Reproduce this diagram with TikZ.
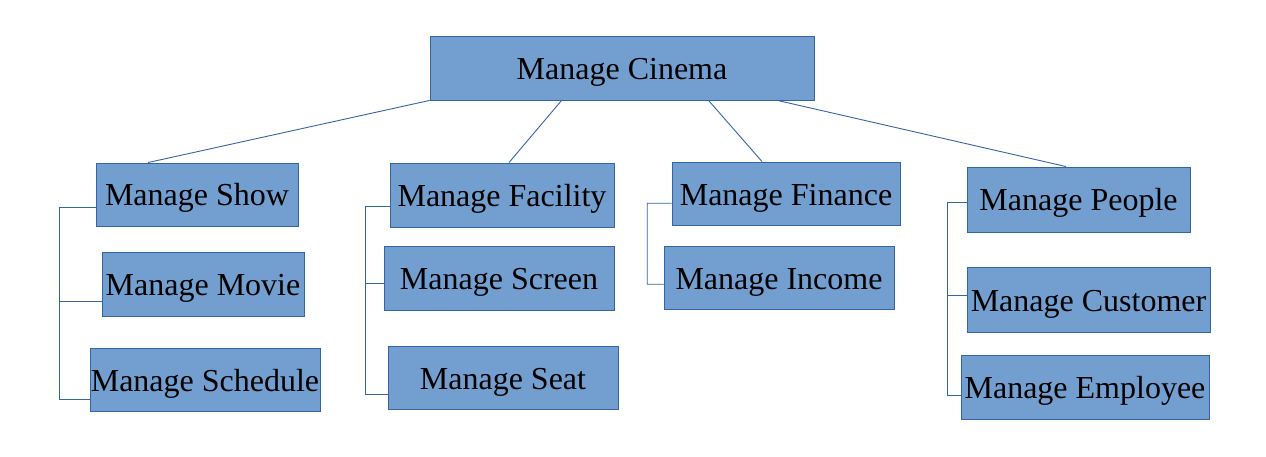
\documentclass[tikz,border=0pt]{standalone}
\usepackage{fontspec}
\setmainfont{Liberation Serif}
\definecolor{boxfill}{HTML}{729FCF}
\definecolor{boxline}{HTML}{3465A4}
\begin{document}
\begin{tikzpicture}[x=1pt,y=-1pt,
  box/.style={draw=boxline, fill=boxfill, line width=0.9pt, inner sep=0pt,
    font=\fontsize{32}{38}\selectfont, text height=28.8pt, text depth=5.8pt},
  link/.style={draw=boxline, line width=0.9pt}]
\useasboundingbox (0,0) rectangle (1266,457);
\node[box, minimum width=384pt, minimum height=64pt] (cin) at (622,68) {Manage Cinema};
\node[box, minimum width=202pt, minimum height=63pt] (show) at (197,194.5) {Manage Show};
\node[box, minimum width=202pt, minimum height=64pt] (movie) at (203,284) {Manage Movie};
\node[box, minimum width=230pt, minimum height=63pt] (sched) at (205,379.5) {Manage Schedule};
\node[box, minimum width=224pt, minimum height=64pt] (fac) at (502,195) {Manage Facility};
\node[box, minimum width=230pt, minimum height=64pt] (scr) at (499,278) {Manage Screen};
\node[box, minimum width=230pt, minimum height=63pt] (seat) at (503,377.5) {Manage Seat};
\node[box, minimum width=228pt, minimum height=63.5pt] (fin) at (786,193.75) {Manage Finance};
\node[box, minimum width=230pt, minimum height=63pt] (inc) at (779,277.5) {Manage Income};
\node[box, minimum width=223pt, minimum height=65pt] (ppl) at (1078.5,199.5) {Manage People};
\node[box, minimum width=243pt, minimum height=65pt] (cust) at (1088.5,299.5) {Manage Customer};
\node[box, minimum width=248pt, minimum height=64pt] (emp) at (1085,387) {Manage Employee};
% top connectors
\draw[link] (cin.south west) -- ([xshift=-49pt]show.north);
\draw[link] ([xshift=132pt]cin.south west) -- ([xshift=7pt]fac.north);
\draw[link] ([xshift=279pt]cin.south west) -- ([xshift=-24pt]fin.north);
\draw[link] ([xshift=348pt]cin.south west) -- ([xshift=-12.5pt]ppl.north);
% brackets
\draw[link] ([yshift=-12.5pt]show.west) -- ++(-36,0) -- ++(0,192) -- ([yshift=-19.5pt]sched.west);
\draw[link] ([yshift=-17pt]movie.west) -- ++(-42,0);
\draw[link] ([yshift=-11.7pt]fac.west) -- ++(-24,0) -- ++(0,187.3) -- ([yshift=-16.5pt]seat.west);
\draw[link] ([yshift=-5.3pt]scr.west) -- ++(-18,0);
\draw[link] ([yshift=-9.5pt]fin.west) -- ++(-24.3,0) -- ++(0,81) -- ([yshift=-6.8pt]inc.west);
\draw[link] ([yshift=-2.5pt]ppl.west) -- ++(-19,0) -- ++(0,193) -- ([yshift=-8pt]emp.west);
\draw[link] ([yshift=4.5pt]cust.west) -- ++(-19,0);
\end{tikzpicture}
\end{document}
